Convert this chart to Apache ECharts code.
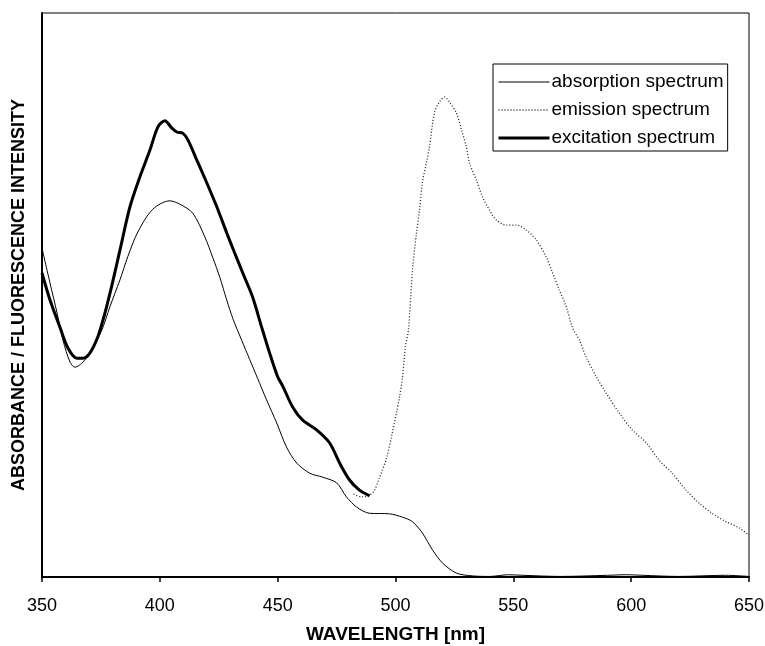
<!DOCTYPE html>
<html>
<head>
<meta charset="utf-8">
<script src="https://cdn.jsdelivr.net/npm/echarts@6/dist/echarts.min.js"></script>
<style>
  html, body { margin: 0; padding: 0; background: #fff; }
  #chart { width: 765px; height: 646px; }
</style>
</head>
<body>
<div id="chart"></div>
<script>
// wavelength [nm] , relative intensity (0 = axis, 100 = top of frame)
const absorption = [
  [350.0, 58.3], [353.4, 52.1], [356.4, 46.8], [358.9, 42.0], [361.9, 38.1],
  [364.0, 37.2], [366.9, 37.9], [370.3, 39.7], [375.4, 43.8], [378.8, 47.9],
  [383.1, 52.7], [386.4, 56.8], [390.7, 61.2], [397.0, 65.2], [404.2, 66.7],
  [408.5, 66.1], [414.0, 64.5], [419.1, 60.3], [422.5, 56.6], [425.4, 53.2],
  [428.4, 49.1], [431.0, 45.8], [434.7, 42.0], [438.1, 38.6], [441.5, 35.2],
  [445.3, 31.4], [449.6, 27.3], [453.8, 23.0], [458.1, 20.2], [463.6, 18.4],
  [469.1, 17.7], [475.0, 16.7], [479.2, 14.2], [483.5, 12.4], [489.0, 11.3],
  [497.5, 11.2], [503.0, 10.6], [507.2, 9.8], [511.4, 7.8], [515.7, 4.8],
  [519.9, 2.5], [525.8, 0.7], [532.6, 0.2], [540.0, 0.1], [548.0, 0.4],
  [554.0, 0.3], [570.0, 0.1], [590.0, 0.3], [598.0, 0.4], [605.0, 0.3],
  [620.0, 0.1], [640.0, 0.3], [650.0, 0.1]
];

const emission = [
  [482.2, 14.7], [485.6, 14.2], [489.0, 14.5], [491.1, 15.4], [493.2, 17.6],
  [496.2, 21.1], [498.7, 25.7], [500.4, 29.1], [501.7, 31.9], [503.0, 35.5],
  [504.2, 40.8], [505.5, 43.8], [507.2, 54.4], [508.9, 61.0], [510.2, 65.1],
  [511.4, 69.9], [513.1, 73.4], [514.4, 76.2], [516.5, 82.3], [518.6, 84.2],
  [520.8, 85.1], [522.9, 84.2], [525.8, 82.3], [528.0, 79.3], [530.1, 76.2],
  [531.4, 73.4], [534.3, 70.4], [536.9, 67.4], [539.8, 65.1], [542.8, 63.3],
  [547.0, 62.4], [551.3, 62.4], [555.5, 61.5], [559.7, 59.8], [564.0, 56.7],
  [566.5, 54.1], [569.5, 50.9], [572.5, 47.9], [575.0, 44.3], [578.0, 42.0],
  [580.9, 39.0], [585.2, 35.5], [589.4, 32.6], [594.9, 29.1], [600.4, 26.1],
  [606.4, 23.8], [611.9, 20.7], [617.4, 18.4], [623.3, 15.4], [628.8, 13.1],
  [634.3, 11.3], [640.3, 9.8], [645.8, 8.7], [650.0, 7.4]
];

const excitation = [
  [350.0, 53.9], [353.4, 49.1], [357.6, 44.3], [361.0, 40.6], [364.8, 38.8],
  [367.4, 38.8], [370.3, 39.7], [373.7, 42.6], [376.7, 46.8], [379.7, 51.8],
  [383.1, 58.0], [387.3, 65.6], [391.5, 70.9], [395.8, 75.7], [399.2, 79.8],
  [402.1, 80.9], [405.1, 79.6], [407.2, 78.9], [409.7, 78.7], [411.9, 77.5],
  [415.7, 73.9], [419.9, 69.9], [424.2, 65.6], [428.4, 61.0], [431.8, 57.4],
  [435.2, 53.9], [439.4, 49.6], [443.2, 44.3], [446.6, 39.7], [450.0, 35.5],
  [452.1, 33.9], [456.4, 30.1], [460.6, 27.8], [466.5, 26.1], [472.0, 23.8],
  [476.3, 20.2], [480.5, 17.2], [484.7, 15.4], [489.0, 14.4]
];

const seriesNames = ['absorption spectrum', 'emission spectrum', 'excitation spectrum'];
const seriesWidths = [1, 1.3, 3];

const chart = echarts.init(document.getElementById('chart'));

const font = 'Liberation Sans, Arial, sans-serif';

chart.setOption({
  animation: false,
  backgroundColor: '#fff',
  grid: {
    left: 42,
    right: 16,
    top: 13,
    bottom: 69,
    outerBoundsMode: 'none',
    containLabel: false,
    show: true,
    borderColor: '#000',
    borderWidth: 1
  },
  legend: {
    orient: 'vertical',
    left: 493,
    top: 64,
    padding: [8, 4, 3, 4],
    itemGap: 8,
    itemWidth: 51,
    itemHeight: 14,
    borderColor: '#000',
    borderWidth: 1,
    backgroundColor: '#fff',
    data: seriesNames.map((n, i) => ({ name: n, lineStyle: { width: seriesWidths[i] } })),
    itemStyle: { opacity: 0 },
    textStyle: {
      fontFamily: font,
      fontSize: 19,
      color: '#000',
      lineHeight: 20,
      padding: [0, 0, 0, -3]
    }
  },
  xAxis: {
    type: 'value',
    min: 350,
    max: 650,
    interval: 50,
    name: 'WAVELENGTH [nm]',
    nameLocation: 'middle',
    nameGap: 48,
    nameTextStyle: {
      fontFamily: font,
      fontWeight: 'bold',
      fontSize: 19,
      color: '#000'
    },
    axisLine: { lineStyle: { color: '#000', width: 2 } },
    axisTick: { show: true, length: 5, lineStyle: { color: '#000', width: 1.5 } },
    axisLabel: {
      fontFamily: font,
      fontSize: 18,
      color: '#000',
      margin: 20
    },
    splitLine: { show: false }
  },
  yAxis: {
    type: 'value',
    min: 0,
    max: 100,
    name: 'ABSORBANCE / FLUORESCENCE INTENSITY',
    nameLocation: 'middle',
    nameRotate: 90,
    nameGap: 14,
    nameTextStyle: {
      fontFamily: font,
      fontWeight: 'bold',
      fontSize: 18,
      color: '#000'
    },
    axisLine: { show: true, lineStyle: { color: '#000', width: 2 } },
    axisTick: { show: false },
    axisLabel: { show: false },
    splitLine: { show: false }
  },
  series: [
    {
      name: seriesNames[0],
      type: 'line',
      data: absorption,
      showSymbol: false,
      symbol: 'none',
      smooth: 0.3,
      itemStyle: { color: '#000' },
      lineStyle: { color: '#000', width: seriesWidths[0] }
    },
    {
      name: seriesNames[1],
      type: 'line',
      data: emission,
      showSymbol: false,
      symbol: 'none',
      smooth: 0.3,
      itemStyle: { color: '#222' },
      lineStyle: { color: '#222', width: seriesWidths[1], type: [1, 2] }
    },
    {
      name: seriesNames[2],
      type: 'line',
      data: excitation,
      showSymbol: false,
      symbol: 'none',
      smooth: 0.3,
      itemStyle: { color: '#000' },
      lineStyle: { color: '#000', width: seriesWidths[2] }
    }
  ]
});
</script>
</body>
</html>
